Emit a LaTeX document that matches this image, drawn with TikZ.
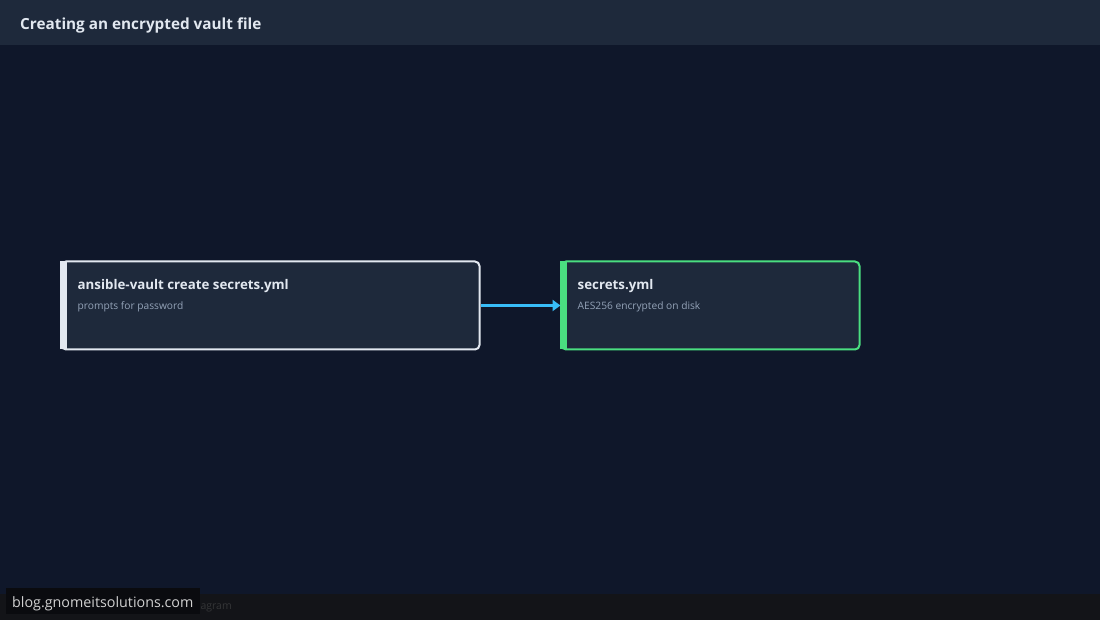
\documentclass[tikz,border=0pt]{standalone}
\usepackage{fontspec}
\setmainfont{Open Sans}
\usetikzlibrary{positioning,arrows.meta}
\definecolor{bgcol}{HTML}{0F172A}
\definecolor{headcol}{HTML}{1E293B}
\definecolor{boxcol}{HTML}{1E293B}
\definecolor{footcol}{HTML}{131418}
\definecolor{markcol}{HTML}{0A0B0F}
\definecolor{edgecol}{HTML}{E2E8F0}
\definecolor{okcol}{HTML}{4ADE80}
\definecolor{arrowcol}{HTML}{38BDF8}
\definecolor{subcol}{HTML}{94A3B8}
\tikzset{
  stepbox/.style = {draw, fill = boxcol, line width = 2pt, rounded corners = 4.5pt,
    minimum height = 88pt, inner sep = 0pt},
  boxtitle/.style = {anchor = base west, text = edgecol, font = \fontsize{13.3}{15}\selectfont\bfseries, inner sep = 0pt},
  boxsub/.style = {anchor = base west, text = subcol, font = \fontsize{10.2}{12}\selectfont, inner sep = 0pt},
  flow/.style = {draw = arrowcol, line width = 2.5pt, -{Triangle[length = 8pt, width = 11pt]}}
}
\begin{document}
\begin{tikzpicture}[x = 1pt, y = 1pt]
\useasboundingbox (0, 0) rectangle (1100, 620);
% background, header and footer
\fill[bgcol] (0, 0) rectangle (1100, 620);
\fill[headcol] (0, 575) rectangle (1100, 620);
\node[anchor = base west, text = edgecol, font = \fontsize{15.3}{18}\selectfont\bfseries, inner sep = 0pt] (head) at (20, 590) {Creating an encrypted vault file};
\fill[footcol] (0, 0) rectangle (1100, 26);
\node[anchor = base east, text = black!60!white!40!footcol, font = \fontsize{10.5}{12}\selectfont, inner sep = 0pt] (foot) at (232, 10) {Diagram};
% the two steps
\node[stepbox, draw = edgecol, minimum width = 418pt] (create) at (270.5, 314.5) {};
\fill[edgecol] ([xshift = -1pt, yshift = -1pt]create.north west) rectangle ([xshift = 6pt, yshift = 1pt]create.south west);
\node[boxtitle] (createT) at ([xshift = 17pt, yshift = -29.5pt]create.north west) {ansible-vault create secrets.yml};
\node[boxsub] (createS) at ([xshift = 17pt, yshift = -49pt]create.north west) {prompts for password};
\node[stepbox, draw = okcol, minimum width = 298pt] (vault) at (710.5, 314.5) {};
\fill[okcol] ([xshift = -1pt, yshift = -1pt]vault.north west) rectangle ([xshift = 6pt, yshift = 1pt]vault.south west);
\node[boxtitle] (vaultT) at ([xshift = 17pt, yshift = -29.5pt]vault.north west) {secrets.yml};
\node[boxsub] (vaultS) at ([xshift = 17pt, yshift = -49pt]vault.north west) {AES256 encrypted on disk};
\draw[flow] (create.east) -- (vault.west);
% watermark
\fill[markcol] (6, 6) rectangle (200, 32);
\node[anchor = base west, text = white!82!black, font = \fontsize{14.3}{16}\selectfont, inner sep = 0pt] (mark) at (12, 12) {blog.gnomeitsolutions.com};
\end{tikzpicture}
\end{document}
